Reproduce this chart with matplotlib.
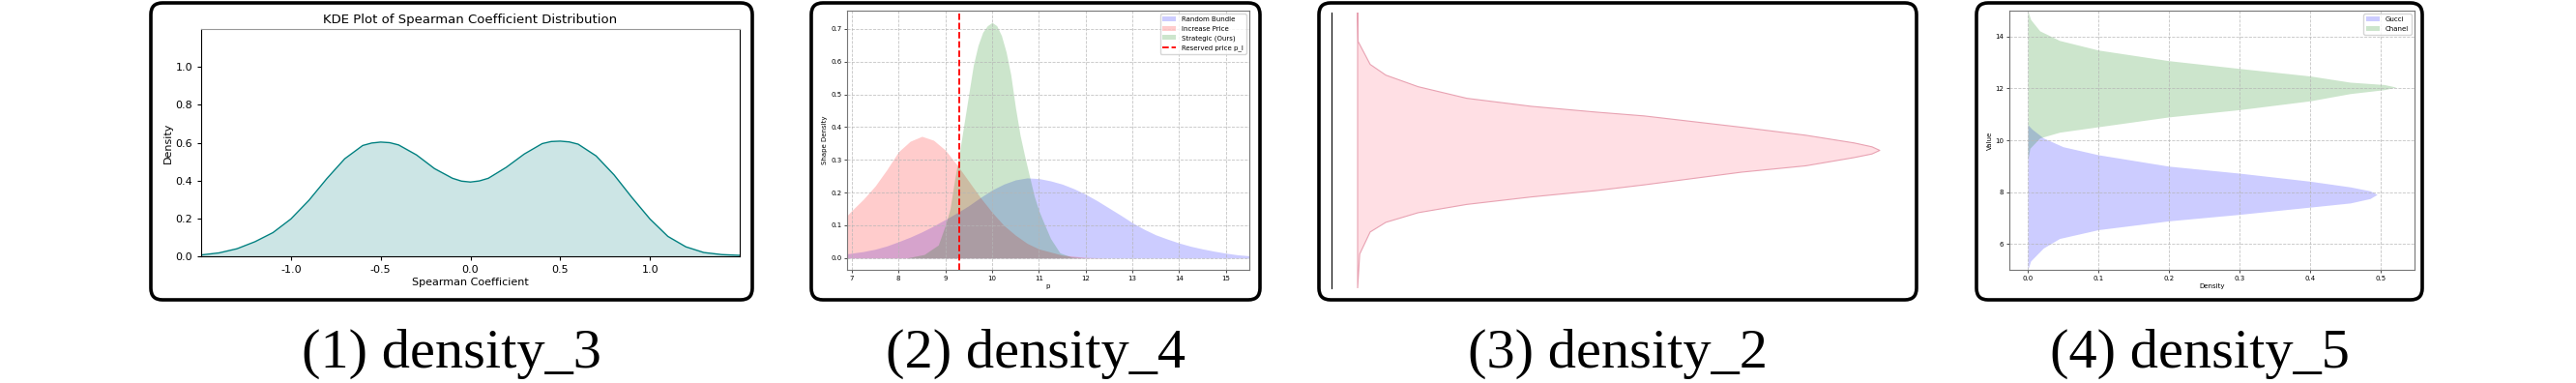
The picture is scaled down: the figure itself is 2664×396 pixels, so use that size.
import matplotlib
matplotlib.use("Agg")
import matplotlib.pyplot as plt
from matplotlib.patches import FancyBboxPatch

plt.rcParams["axes.unicode_minus"] = False

W, H = 2664, 396

# ---- panel 1: KDE of Spearman coefficient
spear_x = [-1.5, -1.4, -1.3, -1.2, -1.1, -1.0, -0.9, -0.8, -0.7, -0.6, -0.55, -0.5, -0.45,
           -0.4, -0.3, -0.2, -0.1, -0.05, 0.0, 0.05, 0.1, 0.2, 0.3, 0.4, 0.45, 0.5, 0.55,
           0.6, 0.7, 0.8, 0.9, 1.0, 1.1, 1.2, 1.3, 1.4, 1.5]
spear_d = [0.007, 0.018, 0.04, 0.077, 0.125, 0.197, 0.295, 0.41, 0.515, 0.585, 0.598, 0.603, 0.6,
           0.588, 0.535, 0.463, 0.412, 0.397, 0.392, 0.398, 0.412, 0.47, 0.54, 0.595, 0.606, 0.608, 0.604,
           0.592, 0.53, 0.43, 0.31, 0.197, 0.105, 0.05, 0.02, 0.009, 0.005]

# ---- panel 2: price distributions
rand_x = [6.9, 7.25, 7.5, 7.75, 8.0, 8.25, 8.5, 8.75, 9.0, 9.25, 9.5, 9.75, 10.0, 10.25, 10.5,
          10.75, 11.0, 11.25, 11.5, 11.75, 12.0, 12.25, 12.5, 12.75, 13.0, 13.25, 13.5, 13.75,
          14.0, 14.25, 14.5, 14.75, 15.0, 15.25, 15.5]
rand_d = [0.013, 0.02, 0.027, 0.037, 0.05, 0.064, 0.08, 0.098, 0.118, 0.138, 0.16, 0.185, 0.208,
          0.226, 0.239, 0.245, 0.243, 0.236, 0.226, 0.212, 0.195, 0.175, 0.153, 0.131, 0.108,
          0.088, 0.071, 0.058, 0.046, 0.036, 0.028, 0.021, 0.015, 0.01, 0.007]
incr_x = [6.9, 7.0, 7.25, 7.5, 7.75, 8.0, 8.25, 8.5, 8.75, 9.0, 9.25, 9.5, 9.75, 10.0, 10.25,
          10.5, 10.75, 11.0, 11.5, 12.0, 12.5, 15.5]
incr_d = [0.13, 0.145, 0.18, 0.22, 0.27, 0.325, 0.357, 0.372, 0.36, 0.33, 0.285, 0.235, 0.185,
          0.14, 0.10, 0.07, 0.045, 0.028, 0.009, 0.002, 0.0, 0.0]
strat_x = [8.2, 8.55, 8.85, 9.0, 9.1, 9.2, 9.3, 9.4, 9.5, 9.6, 9.7, 9.8, 9.9, 10.0, 10.1, 10.2,
           10.3, 10.4, 10.5, 10.6, 10.7, 10.8, 10.9, 11.0, 11.1, 11.25, 11.45, 11.7, 12.0]
strat_d = [0.001, 0.011, 0.04, 0.10, 0.15, 0.24, 0.32, 0.41, 0.50, 0.59, 0.65, 0.69, 0.71, 0.72,
           0.71, 0.68, 0.63, 0.56, 0.46, 0.375, 0.31, 0.25, 0.19, 0.145, 0.11, 0.06, 0.016, 0.003, 0.0]
reserved_price = 9.3

# ---- panel 3: single horizontal density
single_v = [-5.0, -3.76, -2.96, -2.61, -2.26, -1.96, -1.69, -1.46, -1.25, -0.79, -0.56, -0.26,
            -0.13, 0.0, 0.13, 0.27, 0.55, 0.84, 1.25, 1.39, 1.6, 1.89, 2.31, 2.73, 3.12, 3.95, 5.0]
single_d = [0.0, 0.004, 0.024, 0.054, 0.116, 0.209, 0.332, 0.456, 0.549, 0.735, 0.858, 0.951,
            0.985, 1.0, 0.985, 0.951, 0.858, 0.735, 0.549, 0.456, 0.332, 0.209, 0.116, 0.054,
            0.024, 0.001, 0.0]

# ---- panel 4: Gucci vs Chanel
gucci_v = [5.0, 5.34, 5.84, 6.21, 6.55, 6.89, 7.14, 7.42, 7.58, 7.75, 7.91, 8.05, 8.2, 8.42,
           8.73, 9.0, 9.44, 9.75, 10.09, 10.43, 10.6]
gucci_d = [0.0, 0.004, 0.022, 0.045, 0.10, 0.20, 0.30, 0.40, 0.457, 0.485, 0.495, 0.485, 0.457,
           0.40, 0.30, 0.20, 0.10, 0.05, 0.022, 0.006, 0.0]
chanel_v = [9.25, 9.69, 10.09, 10.31, 10.52, 10.9, 11.18, 11.52, 11.8, 11.95, 12.05, 12.15,
            12.24, 12.48, 12.77, 13.07, 13.48, 13.85, 14.22, 14.66, 15.0]
chanel_d = [0.0, 0.003, 0.017, 0.045, 0.10, 0.20, 0.30, 0.40, 0.457, 0.505, 0.522, 0.505,
            0.457, 0.40, 0.30, 0.20, 0.10, 0.045, 0.017, 0.004, 0.0]

captions = ["(1) density_3", "(2) density_4", "(3) density_2", "(4) density_5"]
boxes = [(156, 778), (839, 1303), (1364, 1982), (2044, 2505)]

fig = plt.figure(figsize=(W / 100, H / 100), dpi=100)


def px_axes(l, t, r, b):
    return fig.add_axes([l / W, 1 - b / H, (r - l) / W, (b - t) / H])


# background layer for the rounded frames and captions
bg = fig.add_axes([0, 0, 1, 1])
bg.set_xlim(0, W)
bg.set_ylim(H, 0)
bg.axis("off")
for (x0, x1), cap in zip(boxes, captions):
    bg.add_patch(FancyBboxPatch((x0, 3), x1 - x0, 307,
                                boxstyle="round,pad=0,rounding_size=12",
                                fill=False, edgecolor="black", linewidth=2.6))
    bg.text((x0 + x1) / 2, 380, cap, ha="center", va="baseline",
            fontsize=42, family="Liberation Serif")

# panel 1
ax1 = px_axes(208, 30, 765, 265)
ax1.fill_between(spear_x, spear_d, color="teal", alpha=0.2, linewidth=0)
ax1.plot(spear_x, spear_d, color="teal", linewidth=1)
ax1.set_xlim(-1.5, 1.5)
ax1.set_ylim(0, 1.2)
ax1.set_xticks([-1.0, -0.5, 0.0, 0.5, 1.0])
ax1.set_yticks([0.0, 0.2, 0.4, 0.6, 0.8, 1.0])
ax1.tick_params(labelsize=8, length=3)
ax1.set_title("KDE Plot of Spearman Coefficient Distribution", fontsize=9.5, pad=4)
ax1.set_xlabel("Spearman Coefficient", fontsize=8, labelpad=2)
ax1.set_ylabel("Density", fontsize=8, labelpad=2)
ax1.spines["top"].set_color("#999999")

# panel 2
ax2 = px_axes(876, 11, 1292, 279)
ax2.fill_between(rand_x, rand_d, color="blue", alpha=0.2, linewidth=0, label="Random Bundle")
ax2.fill_between(incr_x, incr_d, color="red", alpha=0.2, linewidth=0, label="Increase Price")
ax2.fill_between(strat_x, strat_d, color="green", alpha=0.2, linewidth=0, label="Strategic (Ours)")
ax2.axvline(reserved_price, color="red", linestyle="--", linewidth=1.3, label="Reserved price p_l")
ax2.set_xlim(6.9, 15.5)
ax2.set_xticks(range(7, 16))
ax2.grid(True, linestyle="--", color="#b5b5b5", linewidth=0.6, alpha=0.8)
ax2.tick_params(labelsize=5, length=2, width=0.5, pad=2)
ax2.set_xlabel("p", fontsize=5, labelpad=2)
ax2.set_ylabel("Shape Density", fontsize=5, labelpad=2)
ax2.legend(loc="upper right", fontsize=5)
for s in ax2.spines.values():
    s.set_color("#777777")

# panel 3
ax3 = px_axes(1377, 13, 1971, 298)
ax3.fill_betweenx(single_v, 0, single_d, facecolor="pink", alpha=0.5, edgecolor="none")
ax3.fill_betweenx(single_v, 0, single_d, facecolor="none", edgecolor="#e8a2b2", linewidth=0.8)
ax3.set_ylim(min(single_v), max(single_v))
ax3.set_xticks([])
ax3.set_yticks([])
for side in ["top", "right", "bottom"]:
    ax3.spines[side].set_visible(False)

# panel 4
ax4 = px_axes(2078, 11, 2497, 279)
ax4.fill_betweenx(gucci_v, 0, gucci_d, color="blue", alpha=0.2, linewidth=0, label="Gucci")
ax4.fill_betweenx(chanel_v, 0, chanel_d, color="green", alpha=0.2, linewidth=0, label="Chanel")
ax4.set_ylim(5, 15)
ax4.set_yticks([6, 8, 10, 12, 14])
ax4.grid(True, linestyle="--", color="#b5b5b5", linewidth=0.6, alpha=0.8)
ax4.tick_params(labelsize=5, length=2, width=0.5, pad=2)
ax4.set_xlabel("Density", fontsize=5, labelpad=2)
ax4.set_ylabel("Value", fontsize=5, labelpad=2)
ax4.legend(loc="upper right", fontsize=5)
for s in ax4.spines.values():
    s.set_color("#777777")

fig.savefig("out.png", dpi=100)
